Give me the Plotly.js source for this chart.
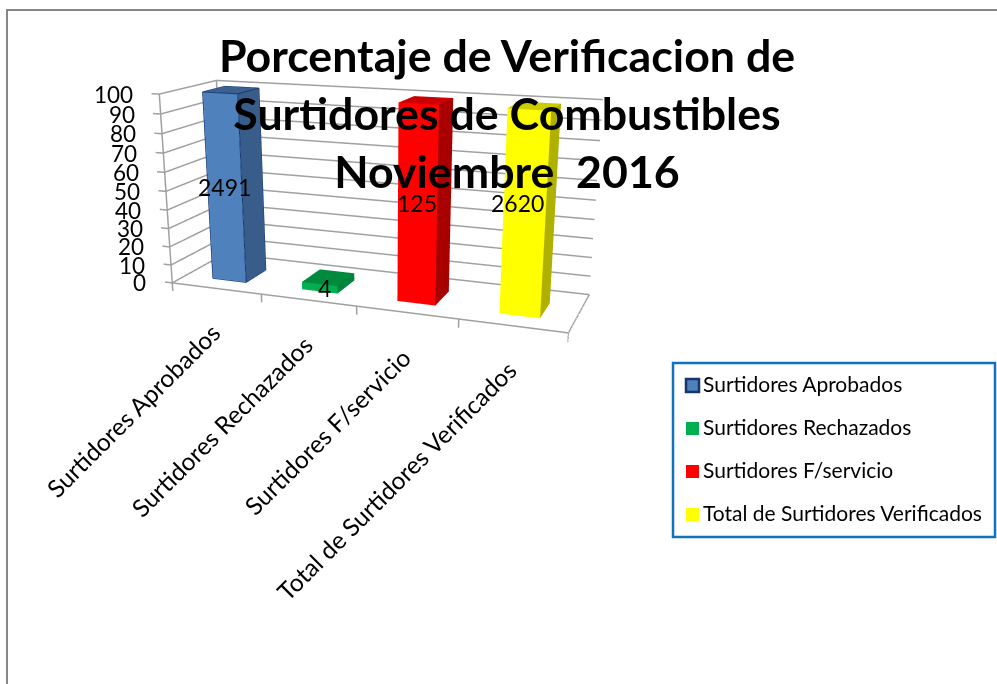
<!DOCTYPE html>
<html><head><meta charset="utf-8">
<script src="https://cdn.plot.ly/plotly-3.0.1.min.js"></script>
<style>html,body{margin:0;padding:0;background:#fff;overflow:hidden;width:997px;height:684px}
#c{position:absolute;left:-270px;top:-133px;width:1300px;height:842px}
text{font-variant-ligatures:none}</style>
</head><body><div id="c"></div>
<script>
const categories = ['Surtidores Aprobados','Surtidores Rechazados','Surtidores F/servicio','Total de Surtidores Verificados'];
const heights = [100, 4, 100, 100];
const barLabels = ['2491','4','125','2620'];
const labelLevels = [51.5, 2, 52, 56.5];
const labelShiftX = [0, 5, 0, -7];
const zTicks = [0,10,20,30,40,50,60,70,80,90,100];
const xBounds = [0,1,2,3,4];
const frontColors = ['#4f81bd','#00b050','#ff0000','#ffff00'];
const topColors = ['#3a6190','#008a3e','#cc0000','#cccc00'];
const sideColors = ['#385d8a','#00843c','#a80000','#b0b000'];
const barWidth = 0.38, d0 = 0.25, d1 = 0.65;
const W=1300,H=842,OX=270,OY=133;
const px=x=>(x+OX)/W, py=y=>1-(y+OY)/H;
const GRID='#a0a0a0', FONT='Lato, Carlito, sans-serif', EDGE='#17366f';

function box(i){
  const x0=i+0.5-barWidth/2, x1=i+0.5+barWidth/2, h=heights[i];
  const fc=frontColors[i], tc=topColors[i], sc=sideColors[i];
  return {
    type:'mesh3d', name:categories[i], hoverinfo:'skip', showscale:false, flatshading:true,
    x:[x0,x1,x1,x0,x0,x1,x1,x0], y:[d0,d0,d1,d1,d0,d0,d1,d1], z:[0,0,0,0,h,h,h,h],
    i:[0,0,1,1,4,4,0,0,3,3,2,2], j:[1,2,2,6,5,6,1,5,2,6,3,7], k:[2,3,6,5,6,7,5,4,6,7,7,6],
    facecolor:[fc,fc,sc,sc,tc,tc,fc,fc,fc,fc,sc,sc],
    lighting:{ambient:1,diffuse:0,specular:0,roughness:1,fresnel:0}
  };
}
function path(pts,color,width){
  return {type:'scatter3d',mode:'lines',hoverinfo:'skip',showlegend:false,connectgaps:false,
    x:pts.map(p=>p?p[0]:null),y:pts.map(p=>p?p[1]:null),z:pts.map(p=>p?p[2]:null),
    line:{color,width}};
}
const traces = categories.map((c,i)=>box(i));
// walls' grid lines, axis edges and tick marks
const frame=[];
zTicks.forEach(t=>{ frame.push([-0.085,0,t],[0,0,t],[0,1,t],[4,1,t],null); });
frame.push([0,0,0],[0,0,100],null,[0,1,0],[0,1,100],null);
frame.push([0,0,0],[4,0,0],[4,1,0],null);
xBounds.forEach(b=>{ frame.push([b,0,0],[b,0,-4.5],null); });
traces.push(path(frame,GRID,3));
// outline of the first bar
const a=0.5-barWidth/2,b=0.5+barWidth/2,h0=heights[0];
traces.push(path([[a,d0,0],[b,d0,0],[b,d0,h0],[a,d0,h0],[a,d0,0],null,
  [a,d0,h0],[a,d1,h0],[b,d1,h0],[b,d0,h0],null,
  [b,d0,0],[b,d1,0],[b,d1,h0]],EDGE,2));

const sceneAnn = [];
categories.forEach((c,i)=>{
  sceneAnn.push({x:i+0.5,y:0,z:0,text:c,showarrow:false,textangle:-45,xanchor:'right',yanchor:'top',
    font:{family:FONT,size:24.5,color:'#000'},xshift:12,yshift:-27});
  sceneAnn.push({x:i+0.5,y:d0,z:labelLevels[i],text:barLabels[i],showarrow:false,xshift:labelShiftX[i],
    font:{family:FONT,size:23,color:'#000'}});
});
zTicks.forEach(t=>{
  sceneAnn.push({x:0,y:0,z:t,text:String(t),showarrow:false,xanchor:'right',yanchor:'middle',xshift:-24,
    font:{family:FONT,size:22.5,color:'#000'}});
});

const legY=[385.5,428.5,471.5,514.5];
const shapes=[
 {type:'rect',xref:'paper',yref:'paper',x0:px(7),x1:px(1100),y0:py(800),y1:py(10),line:{color:'#868686',width:2}},
 {type:'rect',xref:'paper',yref:'paper',x0:px(673),x1:px(995),y0:py(537),y1:py(363),line:{color:'#0f74bd',width:2.5},fillcolor:'#fff'}
];
const annotations=[];
categories.forEach((c,i)=>{
  shapes.push({type:'rect',xref:'paper',yref:'paper',x0:px(686),x1:px(699),y0:py(legY[i]+6.5),y1:py(legY[i]-6.5),
    fillcolor:frontColors[i],line:{color:i==0?EDGE:frontColors[i],width:i==0?2.5:0}});
  annotations.push({xref:'paper',yref:'paper',x:px(703),y:py(legY[i]),xanchor:'left',yanchor:'middle',showarrow:false,xshift:-2,yshift:2,
    text:c,font:{family:FONT,size:21,color:'#000'}});
});

const hidden={showticklabels:false,showgrid:false,zeroline:false,showline:false,ticks:'',title:{text:''},showspikes:false,showbackground:false};
const layout={
  width:W,height:H,margin:{l:0,r:0,t:0,b:0},paper_bgcolor:'#fff',showlegend:false,
  title:{text:'<b>Porcentaje de Verificacion de<br>Surtidores de Combustibles<br>Noviembre  2016</b>',
    x:px(507),xanchor:'center',y:py(72),yanchor:'top',font:{family:FONT,size:44.7,color:'#000'}},
  shapes,annotations,
  scene:{
    domain:{x:[0,1],y:[0,1]},
    aspectmode:'manual',aspectratio:{x:2.173,y:0.584,z:1.07},
    camera:{eye:{x:1.8065,y:-4.735,z:1.221},center:{x:0.0925,y:-0.135,z:-0.431},up:{x:0,y:0,z:1},projection:{type:'perspective'}},
    bgcolor:'rgba(0,0,0,0)',
    annotations:sceneAnn,
    xaxis:Object.assign({range:[-0.1,4]},hidden),
    yaxis:Object.assign({range:[0,1]},hidden),
    zaxis:Object.assign({range:[-5,102]},hidden)
  }
};
Plotly.newPlot('c',traces,layout,{displayModeBar:false});
</script></body></html>
